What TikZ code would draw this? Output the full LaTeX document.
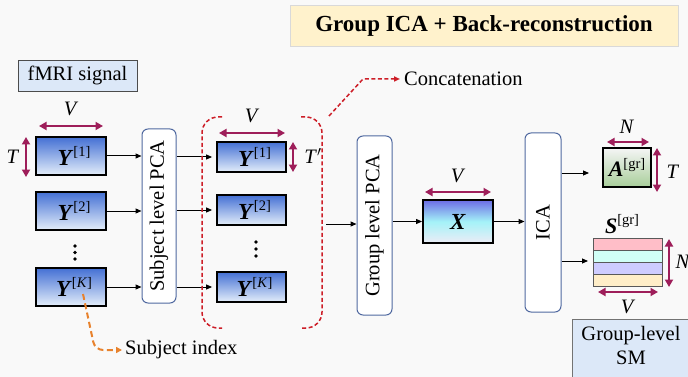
\documentclass[tikz,border=0pt]{standalone}
\usepackage{fontspec}
\setmainfont{Liberation Serif}
\usetikzlibrary{arrows.meta}

\definecolor{bgc}{RGB}{249,249,249}
\definecolor{mar}{RGB}{158,30,90}
\definecolor{ytop}{RGB}{68,112,212}
\definecolor{ybot}{RGB}{228,238,250}
\definecolor{pcab}{RGB}{80,105,160}
\definecolor{redd}{RGB}{205,30,40}
\definecolor{orng}{RGB}{232,130,45}
\definecolor{lblue}{RGB}{220,232,248}
\definecolor{lyel}{RGB}{255,242,204}
\definecolor{xtop}{RGB}{108,108,228}
\definecolor{xmid}{RGB}{164,242,248}
\definecolor{xbot}{RGB}{236,236,246}
\definecolor{atop}{RGB}{245,245,245}
\definecolor{abot}{RGB}{168,206,154}
\definecolor{sone}{RGB}{255,190,200}
\definecolor{stwo}{RGB}{208,255,246}
\definecolor{sthree}{RGB}{206,204,255}
\definecolor{sfour}{RGB}{255,238,200}

\newcommand{\yl}[1]{{\fontsize{23}{26}\selectfont\textbf{\textit{Y}}}\raisebox{0.42em}{\fontsize{14.5}{14}\selectfont[#1]}}
\newcommand{\ml}[2]{{\fontsize{22}{26}\selectfont\textbf{\textit{#1}}}\raisebox{0.42em}{\fontsize{14.5}{14}\selectfont[#2]}}

\begin{document}
\begin{tikzpicture}[x=1pt,y=-1pt,
  font=\fontsize{20.5}{24}\selectfont,
  every node/.style={inner sep=2pt},
  ybox/.style={draw=black, line width=1.8pt, top color=ytop, bottom color=ybot,
    minimum width=70pt, minimum height=38pt, inner sep=0pt},
  ymbox/.style={ybox, minimum width=69pt, minimum height=30pt},
  pcabox/.style={draw=pcab, line width=1pt, fill=white, rounded corners=6pt, inner sep=0pt},
  blk/.style={draw=black, line width=1pt, -{Triangle[length=6pt,width=5pt]}},
  dimarr/.style={draw=mar, line width=2.4pt, {Triangle[length=7.5pt,width=8pt]}-{Triangle[length=7.5pt,width=8pt]}},
  reddash/.style={draw=redd, line width=1.5pt, dash pattern=on 4pt off 2.5pt},
  orgdash/.style={draw=orng, line width=2pt, dash pattern=on 6pt off 3.5pt},
  stripe/.style={draw=black!65, line width=0.8pt},
  dot/.style={fill=black, circle, inner sep=0pt, minimum size=3.8pt}
]
\fill[bgc] (0,0) rectangle (688,377);
\useasboundingbox (0,0) rectangle (688,377);
\clip (0,0) rectangle (688,377);

% title
\node[draw=black!15, fill=lyel, minimum width=388pt, minimum height=41pt] (title) at (484,25.5)
  {\fontsize{23}{26}\selectfont\bfseries Group ICA + Back-reconstruction};
% fMRI signal
\node[draw=black!70, line width=0.8pt, fill=lblue, minimum width=119pt, minimum height=31pt] (fmri) at (77.5,75.5) {fMRI signal};

% left Y boxes
\node[ybox] (Y1L) at (71,156) {\hspace{6pt}\yl{1}};
\node[ybox] (Y2L) at (71,211) {\hspace{6pt}\yl{2}};
\node[ybox] (YKL) at (71,287) {\hspace{6pt}\yl{\textit{K}}};
\node[dot] (dl1) at (75,246) {};
\node[dot] (dl2) at (75,252.5) {};
\node[dot] (dl3) at (75,259) {};
\draw[dimarr] (39,126) -- (103,126);
\node (vL) at (71,109) {\textit{V}};
\draw[dimarr] (26,137) -- (26,177);
\node (tL) at (13,157) {\textit{T}};

% subject level PCA
\node[pcabox, minimum width=34pt, minimum height=174pt] (spca) at (159,216) {};
\node[rotate=90] (spcaT) at (spca.center) {Subject level PCA};
\draw[blk] (Y1L.east) -- (Y1L.east -| spca.west);
\draw[blk] (Y2L.east) -- (Y2L.east -| spca.west);
\draw[blk] (YKL.east) -- (YKL.east -| spca.west);

% middle Y boxes
\node[ymbox] (Y1M) at (251.5,157) {\hspace{6pt}\yl{1}};
\node[ymbox] (Y2M) at (251.5,210) {\hspace{6pt}\yl{2}};
\node[ymbox] (YKM) at (251.5,287) {\hspace{6pt}\yl{\textit{K}}};
\node[dot] (dm1) at (256,242) {};
\node[dot] (dm2) at (256,249) {};
\node[dot] (dm3) at (256,256) {};
\draw[blk, shorten >=4pt] (spca.east |- Y1M.west) -- (Y1M.west);
\draw[blk, shorten >=4pt] (spca.east |- Y2M.west) -- (Y2M.west);
\draw[blk, shorten >=4pt] (spca.east |- YKM.west) -- (YKM.west);
\draw[dimarr] (219,133) -- (285,133);
\node (vM) at (252,116) {\textit{V}};
\draw[dimarr] (293,142) -- (293,172);
\node (tM) at (313,156) {\textit{T}$'$};

% dashed brackets
\draw[reddash, rounded corners=16pt] (222,117) -- (202,117) -- (202,328) -- (222,328);
\draw[reddash, rounded corners=16pt] (301,117) -- (322,117) -- (322,328) -- (301,328);
\coordinate (cc0) at (329,116);
\coordinate (cc1) at (363,79);
\node[anchor=west, inner sep=3pt] (concat) at (401,79) {Concatenation};
\draw[reddash, -{Triangle[length=6pt,width=5pt]}, shorten >=1pt] (cc0) -- (cc1) -- (concat.west);

% subject index
\node[anchor=west, inner sep=3pt] (subj) at (122,350) {Subject index};
\coordinate (si0) at (83,294);
\coordinate (si1) at (95,350);
\draw[orgdash, rounded corners=8pt, -{Triangle[length=6pt,width=6pt]}] (si0) -- (si1) -- (subj.west);

% group level PCA
\node[pcabox, minimum width=35pt, minimum height=179pt] (gpca) at (374.5,225.5) {};
\node[rotate=90] (gpcaT) at (gpca.center) {Group level PCA};
\coordinate (brOut) at (326,224);
\draw[blk] (brOut) -- (brOut -| gpca.west);

% X
\node[draw=black, line width=1.8pt, minimum width=70pt, minimum height=43pt,
  top color=xtop, bottom color=xbot, middle color=xmid, inner sep=0pt] (X) at (458,221.5) {{\fontsize{23}{26}\selectfont\textbf{\textit{X}}}};
\draw[blk] (gpca.east |- X.west) -- (X.west);
\draw[dimarr] (425,192) -- (491,192);
\node (vX) at (458,176) {\textit{V}};

% ICA
\node[pcabox, minimum width=36pt, minimum height=179pt] (ica) at (543,222.5) {};
\node[rotate=90] (icaT) at (ica.center) {ICA};
\draw[blk] (X.east) -- (X.east -| ica.west);

% A
\node[draw=black, line width=1.8pt, minimum width=48pt, minimum height=39pt,
  top color=atop, bottom color=abot, inner sep=0pt] (A) at (627,167.5) {\ml{A}{gr}};
\coordinate (aIn) at (589,173);
\draw[blk] (ica.east |- aIn) -- (aIn);
\draw[dimarr] (607,142) -- (649,142);
\node (nA) at (627,127) {\textit{N}};
\draw[dimarr] (657,148) -- (657,192);
\node (tA) at (673,172) {\textit{T}};

% S
\node (Slab) at (622,224) {\ml{S}{gr}};
\draw[stripe, fill=sone] (593,238) rectangle (662,250);
\draw[stripe, fill=stwo] (593,250) rectangle (662,262);
\draw[stripe, fill=sthree] (593,262) rectangle (662,274);
\draw[stripe, fill=sfour] (593,274) rectangle (662,286);
\coordinate (sIn) at (588,261);
\draw[blk] (ica.east |- sIn) -- (sIn);
\draw[dimarr] (669,239) -- (669,287);
\node (nS) at (683,262) {\textit{N}};
\draw[dimarr] (598,292) -- (658,292);
\node (vS) at (628,307) {\textit{V}};

% group-level SM
\draw[draw=black!55, line width=0.8pt, fill=lblue] (572,319) rectangle (700,395);
\node[align=center, inner sep=0pt] (sm) at (631,345) {Group-level\\SM};
\end{tikzpicture}
\end{document}
